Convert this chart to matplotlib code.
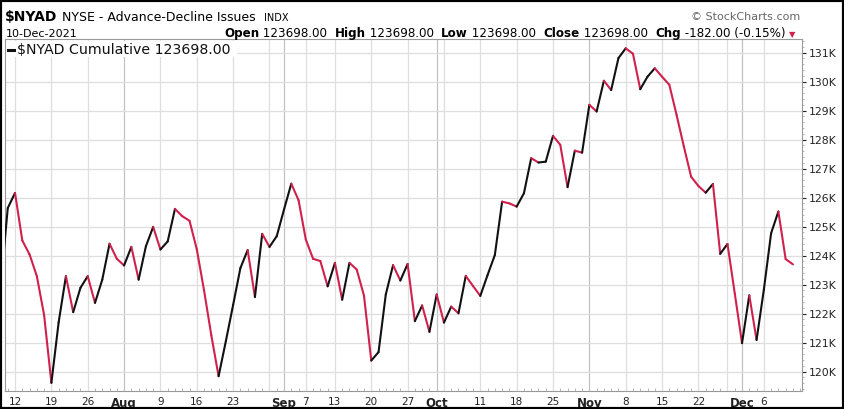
import numpy as np
import pandas as pd
import matplotlib
matplotlib.use("Agg")
import matplotlib.pyplot as plt
from matplotlib.collections import LineCollection
from matplotlib.lines import Line2D
from matplotlib.patches import Rectangle
from matplotlib.ticker import FuncFormatter, MultipleLocator

W, H = 844, 409

# trading days, Jul 8 - Dec 10 2021 (market shut Labor Day + Thanksgiving)
dates = pd.bdate_range("2021-07-08", "2021-12-10", freq="C",
                       holidays=["2021-09-06", "2021-11-25"])

# $NYAD cumulative advance-decline line, in thousands
nyad = [122.90, 125.64, 126.16, 124.52, 124.04, 123.29, 121.95, 119.61, 121.70, 123.29,
        122.05, 122.89, 123.29, 122.37, 123.17, 124.41, 123.89, 123.66, 124.30, 123.17,
        124.32, 124.99, 124.21, 124.49, 125.61, 125.36, 125.20, 124.22, 122.80, 121.25,
        119.84, 121.05, 122.30, 123.57, 124.19, 122.57, 124.75, 124.30, 124.67, 125.59,
        126.48, 125.91, 124.55, 123.89, 123.81, 122.94, 123.75, 122.48, 123.75, 123.52,
        122.62, 120.38, 120.67, 122.66, 123.67, 123.14, 123.71, 121.74, 122.28, 121.37,
        122.66, 121.69, 122.24, 122.01, 123.30, 122.95, 122.61, 123.33, 124.02, 125.86,
        125.80, 125.69, 126.15, 127.36, 127.21, 127.24, 128.13, 127.82, 126.36, 127.62,
        127.55, 129.20, 128.97, 130.03, 129.71, 130.81, 131.15, 130.96, 129.74, 130.17,
        130.46, 130.17, 129.89, 128.85, 127.76, 126.72, 126.40, 126.17, 126.47, 124.06,
        124.40, 122.70, 120.98, 122.63, 121.09, 122.82, 124.77, 125.52, 123.88, 123.698]

# weekly / monthly grid lines and their labels ("" = line only)
grid_days = ["2021-07-12", "2021-07-19", "2021-07-26", "2021-08-02", "2021-08-09",
             "2021-08-16", "2021-08-23", "2021-08-30", "2021-09-01", "2021-09-07",
             "2021-09-13", "2021-09-20", "2021-09-27", "2021-10-01", "2021-10-04",
             "2021-10-11", "2021-10-18", "2021-10-25", "2021-11-01", "2021-11-08",
             "2021-11-15", "2021-11-22", "2021-11-29", "2021-12-01", "2021-12-06"]
grid_labels = ["12", "19", "26", "Aug", "9", "16", "23", "", "Sep", "7",
               "13", "20", "27", "Oct", "", "11", "18", "25", "Nov", "8",
               "15", "22", "", "Dec", "6"]
months = ["Aug", "Sep", "Oct", "Nov", "Dec"]

up_col = "#111111"
down_col = "#d0214c"

assert len(nyad) == len(dates)
y = np.array(nyad)
x = np.arange(len(y))

fig = plt.figure(figsize=(W / 100, H / 100), dpi=100)
ax = fig.add_axes([5 / W, 1 - 391 / H, (802 - 5) / W, (391 - 39) / H])

# gridlines
gpos = [dates.get_loc(pd.Timestamp(d)) for d in grid_days]
for p, lab in zip(gpos, grid_labels):
    c = "#c2c2c2" if lab in months else "#dedede"
    ax.axvline(p, color=c, lw=0.9, zorder=0)
for v in range(120, 132):
    ax.axhline(v, color="#dedede", lw=0.9, zorder=0)

# up days black, down days red
segs = np.stack([np.column_stack([x[:-1], y[:-1]]), np.column_stack([x[1:], y[1:]])], axis=1)
cols = [up_col if b > a else down_col for a, b in zip(y[:-1], y[1:])]
lc = LineCollection(segs, colors=cols, linewidths=1.5, capstyle="round", joinstyle="round", zorder=3)
ax.add_collection(lc)

ax.set_xlim(0.62, 110.25)
ax.set_ylim(119.33, 131.47)

ax.set_xticks(gpos)
ax.set_xticklabels(grid_labels)
for t in ax.get_xticklabels():
    if t.get_text() in months:
        t.set_fontweight("bold")
        t.set_fontsize(8.5)
    else:
        t.set_fontsize(7.5)
ax.xaxis.set_minor_locator(MultipleLocator(1))
ax.tick_params(axis="x", which="major", length=0, pad=4, colors="#222222")
ax.tick_params(axis="x", which="minor", length=2, direction="in", color="#aaaaaa")

ax.yaxis.tick_right()
ax.yaxis.set_major_locator(MultipleLocator(1))
ax.yaxis.set_minor_locator(MultipleLocator(0.2))
ax.yaxis.set_major_formatter(FuncFormatter(lambda v, _: "%dK" % round(v)))
ax.tick_params(axis="y", which="major", length=3, pad=2, labelsize=7.8, colors="#222222")
ax.tick_params(axis="y", which="minor", length=1.5, color="#aaaaaa")
for s in ax.spines.values():
    s.set_color("#999999")
    s.set_linewidth(0.8)

# legend strip
def px(a, b):
    return a / W, 1 - b / H

ax.add_patch(Rectangle(px(6, 57), 231 / W, 16.5 / H, transform=fig.transFigure,
                       facecolor="white", edgecolor="none", zorder=1))
fig.add_artist(Line2D([7.5 / W, 14 / W], [1 - 50 / H] * 2, color="#111111", lw=2.2))
fig.text(*px(17, 54), "$NYAD Cumulative 123698.00", fontsize=10.2, va="baseline",
         ha="left", color="#111111")

# header
fig.text(*px(5, 21), "$NYAD", fontsize=10, fontweight="bold", va="baseline")
fig.text(*px(62, 21), "NYSE - Advance-Decline Issues", fontsize=9, va="baseline")
fig.text(*px(264, 21), "INDX", fontsize=7, va="baseline")
fig.text(*px(800, 20), "\u00a9 StockCharts.com", fontsize=8, color="#666666", va="baseline", ha="right")
fig.text(*px(6, 37), "10-Dec-2021", fontsize=8, va="baseline")

parts = [("Open", True), (" 123698.00  ", False), ("High", True), (" 123698.00  ", False),
         ("Low", True), (" 123698.00  ", False), ("Close", True), (" 123698.00  ", False),
         ("Chg", True), (" -182.00 (-0.15%) ", False)]
t = fig.text(*px(224, 37), parts[0][0], fontsize=8.6, fontweight="bold", va="baseline")
for s, b in parts[1:]:
    t = ax.annotate(s, xy=(1, 0), xycoords=t, va="bottom", ha="left", fontsize=8.6,
                    fontweight="bold" if b else "normal", annotation_clip=False)
ax.annotate("\u25bc", xy=(1, 0.1), xycoords=t, va="bottom", ha="left", fontsize=6,
            color=down_col, annotation_clip=False)

fig.add_artist(Rectangle((0, 0), 1, 1, transform=fig.transFigure, fill=False,
                         edgecolor="black", lw=3))

fig.savefig("out.png", dpi=100)
